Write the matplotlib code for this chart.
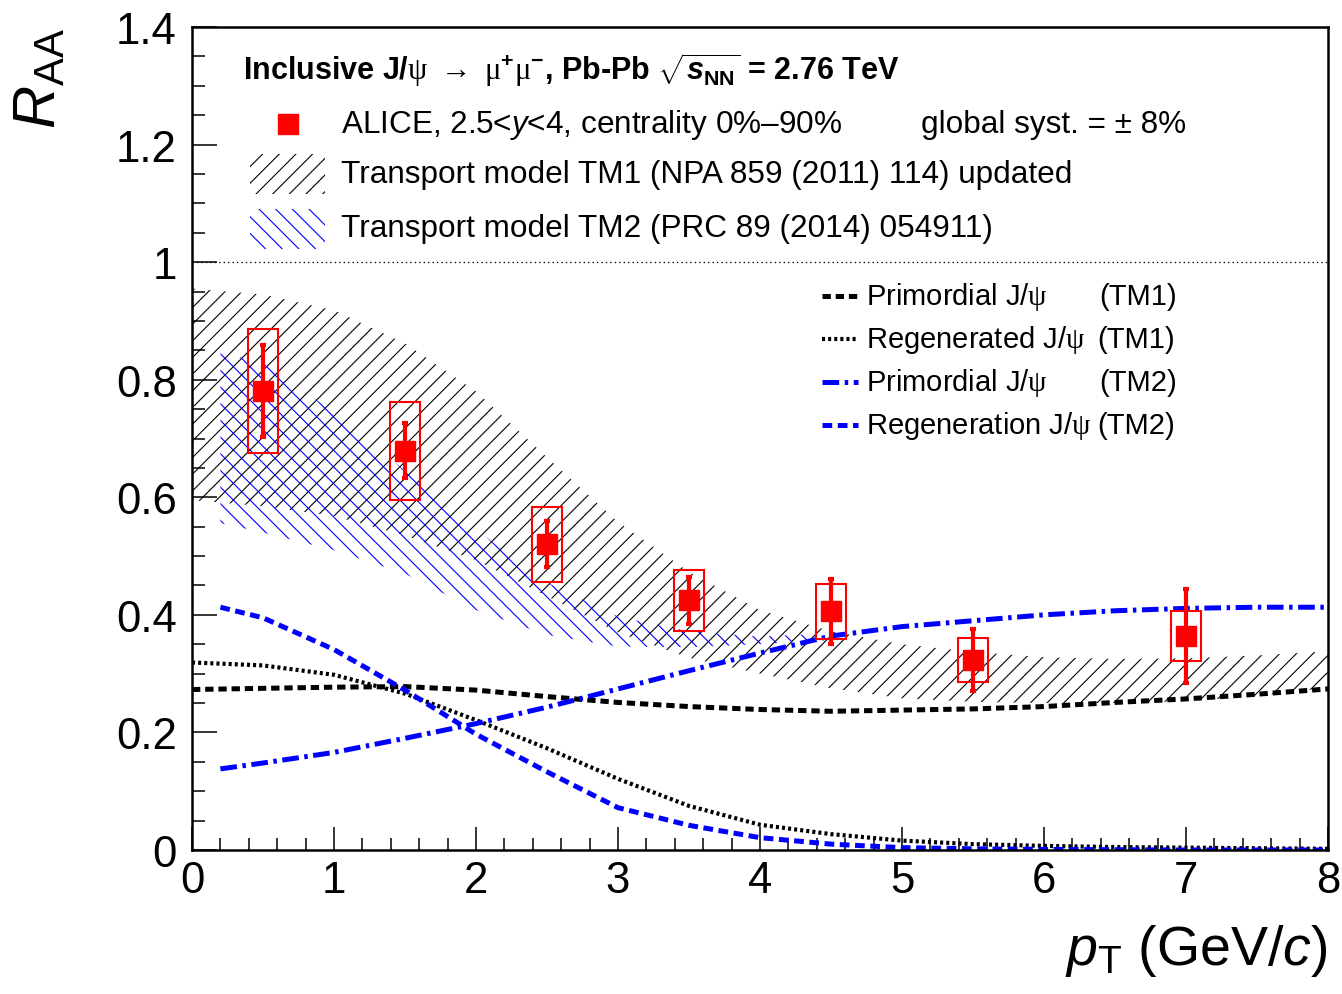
import matplotlib
matplotlib.use("Agg")
import matplotlib.pyplot as plt
from matplotlib.patches import Rectangle
from matplotlib.ticker import MultipleLocator, FormatStrFormatter

plt.rcParams['font.family'] = ['Liberation Sans', 'DejaVu Sans']
plt.rcParams['mathtext.fontset'] = 'custom'
plt.rcParams['mathtext.rm'] = 'Liberation Sans'
plt.rcParams['mathtext.it'] = 'Liberation Sans:italic'
plt.rcParams['mathtext.bf'] = 'Liberation Sans:bold'
plt.rcParams['mathtext.bfit'] = 'Liberation Sans:bold:italic'
plt.rcParams['mathtext.sf'] = 'Liberation Serif'   # used for the greek letters
plt.rcParams['hatch.linewidth'] = 0.8
plt.rcParams['lines.scale_dashes'] = False

# ALICE data points
pt = [0.5, 1.5, 2.5, 3.5, 4.5, 5.5, 7.0]
raa = [0.781, 0.679, 0.520, 0.425, 0.406, 0.323, 0.364]
stat = [0.078, 0.047, 0.039, 0.040, 0.055, 0.053, 0.080]
syst = [0.106, 0.083, 0.064, 0.052, 0.047, 0.037, 0.042]

# TM1 band and components
x_tm1 = [0, 0.5, 1, 1.5, 2, 2.5, 3, 3.5, 4, 4.5, 5, 5.5, 6, 6.5, 7, 7.5, 8]
tm1_hi = [0.955, 0.945, 0.918, 0.862, 0.78, 0.668, 0.558, 0.473, 0.408, 0.372,
          0.35, 0.337, 0.328, 0.325, 0.326, 0.331, 0.338]
tm1_lo = [0.595, 0.585, 0.568, 0.535, 0.493, 0.432, 0.37, 0.327, 0.30, 0.275,
          0.258, 0.252, 0.25, 0.25, 0.253, 0.262, 0.276]
tm1_prim = [0.273, 0.275, 0.277, 0.278, 0.272, 0.261, 0.251, 0.244, 0.239, 0.236,
            0.238, 0.240, 0.244, 0.251, 0.257, 0.265, 0.274]
tm1_regen = [0.319, 0.314, 0.298, 0.266, 0.221, 0.173, 0.121, 0.075, 0.043, 0.027,
             0.016, 0.010, 0.007, 0.005, 0.004, 0.003, 0.002]

# TM2 band
x_tm2 = [0.2, 0.5, 1.0, 1.5, 2.0, 2.5, 3.0, 3.5, 4.0, 4.35]
tm2_hi = [0.847, 0.828, 0.745, 0.645, 0.545, 0.455, 0.397, 0.372, 0.363, 0.367]
tm2_lo = [0.556, 0.54, 0.51, 0.47, 0.408, 0.366, 0.346, 0.345, 0.35, 0.356]

# TM2 components
x_tm2c = [0.2, 0.5, 1.0, 1.5, 2.0, 2.5, 3.0, 3.5, 4.0, 4.5, 5.0, 5.5, 6.0, 6.5, 7.0, 7.5, 8.0]
tm2_prim = [0.138, 0.148, 0.166, 0.19, 0.215, 0.243, 0.274, 0.305, 0.335, 0.364,
            0.38, 0.39, 0.40, 0.407, 0.411, 0.413, 0.413]
tm2_regen = [0.413, 0.395, 0.341, 0.272, 0.197, 0.133, 0.072, 0.042, 0.021, 0.010,
             0.004, 0.002, 0.001, 0.0005, 0.0, 0.0, 0.0]

fig = plt.figure(figsize=(13.42, 9.95), dpi=100)
ax = fig.add_axes([192/1342, 1-851/995, 1136/1342, 823/995])

# model bands
ax.fill_between(x_tm1, tm1_lo, tm1_hi, facecolor='none', edgecolor='black',
                hatch='//', linewidth=0)
ax.fill_between(x_tm2, tm2_lo, tm2_hi, facecolor='none', edgecolor='blue',
                hatch='\\\\', linewidth=0)

# model components
ax.plot(x_tm1, tm1_prim, color='black', lw=3.6, dashes=(6, 3.5))
ax.plot(x_tm1, tm1_regen, color='black', lw=3.0, dashes=(2.2, 2.2))
ax.plot(x_tm2c, tm2_prim, color='blue', lw=3.6, dashes=(12, 4, 2.5, 4))
ax.plot(x_tm2c, tm2_regen, color='blue', lw=3.6, dashes=(7, 4))

ax.axhline(1.0, color='black', lw=0.9, dashes=(1, 2.2))

# data
for x, y, s in zip(pt, raa, syst):
    ax.add_patch(Rectangle((x - 0.105, y - s), 0.21, 2 * s, facecolor='none',
                           edgecolor='red', lw=1.5, zorder=4))
ax.errorbar(pt, raa, yerr=stat, fmt='s', color='red', ms=15, lw=3,
            capsize=2.5, capthick=3, zorder=5)

ax.set_xlim(0, 8)
ax.set_ylim(0, 1.4)
ax.xaxis.set_major_locator(MultipleLocator(1))
ax.xaxis.set_minor_locator(MultipleLocator(0.2))
ax.yaxis.set_major_locator(MultipleLocator(0.2))
ax.yaxis.set_minor_locator(MultipleLocator(0.05))
ax.yaxis.set_major_formatter(FormatStrFormatter('%g'))
ax.tick_params(which='both', direction='in', top=False, right=False,
               labelsize=31.5, width=1.1)
ax.tick_params(axis='x', which='major', length=16.5, pad=7)
ax.tick_params(axis='x', which='minor', length=8.5)
ax.tick_params(axis='y', which='major', length=18, pad=11)
ax.tick_params(axis='y', which='minor', length=9.3)
for sp in ax.spines.values():
    sp.set_linewidth(1.8)

# axis titles
ax.text(1.0, -0.138, r'$p_{\mathrm{T}}$ (GeV/$c$)', transform=ax.transAxes,
        ha='right', va='baseline', fontsize=40)
fig.text(0.030, 0.972, r'$R_{\mathrm{AA}}$', rotation=90, ha='center', va='top',
         fontsize=43)

# legend 1
ax.text(0.0449, 0.949,
        r'Inclusive J/$\mathsf{\psi}$ $\mathsf{\rightarrow}$ $\mathsf{\mu}^{\mathbf{+}}\mathsf{\mu}^{\mathbf{-}}$, Pb-Pb $\sqrt{\mathbfit{s}_{\mathbf{NN}}}$ = 2.76 TeV',
        transform=ax.transAxes, fontsize=22, fontweight='bold', va='center')
ax.plot([0.0845], [0.882], 's', color='red', ms=15, transform=ax.transAxes)
ax.text(0.131, 0.882, r'ALICE, 2.5<$\mathit{y}$<4, centrality 0%–90%',
        transform=ax.transAxes, fontsize=22.7, va='center')
ax.text(0.6417, 0.882, 'global syst. = ± 8%', transform=ax.transAxes,
        fontsize=22.7, va='center')
ax.add_patch(Rectangle((0.051, 0.797), 0.066, 0.049, transform=ax.transAxes,
                       facecolor='none', edgecolor='black', hatch='//', lw=0))
ax.text(0.131, 0.821, 'Transport model TM1 (NPA 859 (2011) 114) updated',
        transform=ax.transAxes, fontsize=22.7, va='center')
ax.add_patch(Rectangle((0.051, 0.730), 0.066, 0.049, transform=ax.transAxes,
                       facecolor='none', edgecolor='blue', hatch='\\\\', lw=0))
ax.text(0.131, 0.756, 'Transport model TM2 (PRC 89 (2014) 054911)',
        transform=ax.transAxes, fontsize=22.7, va='center')

# legend 2
leg2 = [
    ('black', 3.6, (6, 3.5), r'Primordial J/$\mathsf{\psi}$', '(TM1)', 0.673, 0.799),
    ('black', 3.0, (2.2, 2.2), r'Regenerated J/$\mathsf{\psi}$', '(TM1)', 0.621, 0.797),
    ('blue', 3.6, (12, 4, 2.5, 4), r'Primordial J/$\mathsf{\psi}$', '(TM2)', 0.569, 0.799),
    ('blue', 3.6, (7, 4), r'Regeneration J/$\mathsf{\psi}$', '(TM2)', 0.516, 0.797),
]
for col, lw, ds, lab, tag, yy, xt in leg2:
    ax.plot([0.5546, 0.5863], [yy, yy], color=col, lw=lw, dashes=ds,
            transform=ax.transAxes)
    ax.text(0.5933, yy, lab, transform=ax.transAxes, fontsize=21, va='center')
    ax.text(xt, yy, tag, transform=ax.transAxes, fontsize=21, va='center')

fig.savefig('out.png', dpi=100)
